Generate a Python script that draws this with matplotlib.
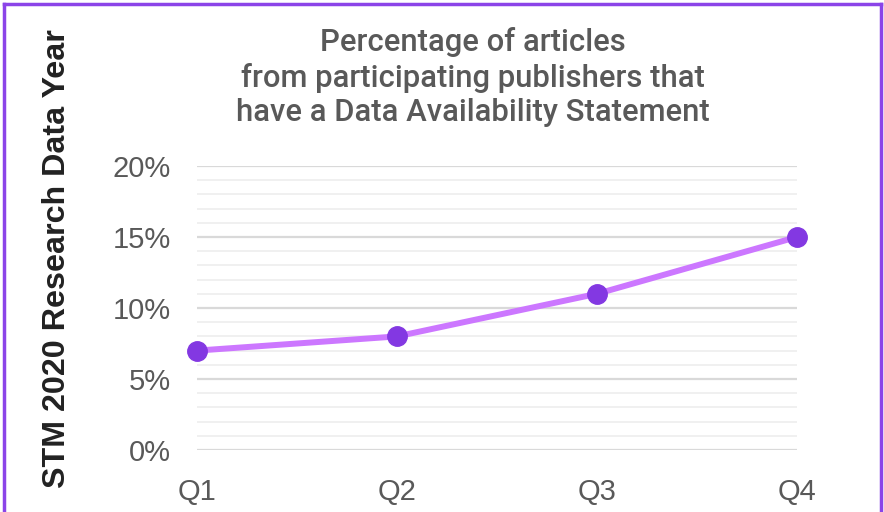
import matplotlib
matplotlib.use("Agg")
import matplotlib.pyplot as plt
from matplotlib.lines import Line2D
from matplotlib.ticker import MultipleLocator, PercentFormatter

# data
quarters = ["Q1", "Q2", "Q3", "Q4"]
share = [0.07, 0.08, 0.11, 0.15]

title = "Percentage of articles\nfrom participating publishers that\nhave a Data Availability Statement"
side_label = "STM 2020 Research Data Year"

fig = plt.figure(figsize=(8.84, 5.12), dpi=100)
ax = fig.add_axes([197 / 884, 1 - 450 / 512, 600 / 884, 284 / 512])

x = list(range(len(quarters)))
ax.plot(x, share, color="#CC77FF", linewidth=4.3, zorder=3, solid_capstyle="round")
ax.plot(x, share, linestyle="none", marker="o", markersize=14,
        color="#8338E2", zorder=4, clip_on=False)

ax.set_xlim(0, 3)
ax.set_ylim(0, 0.20)
ax.set_xticks(x)
ax.set_xticklabels(quarters)
ax.yaxis.set_major_locator(MultipleLocator(0.05))
ax.yaxis.set_minor_locator(MultipleLocator(0.01))
ax.yaxis.set_major_formatter(PercentFormatter(1.0, decimals=0))

ax.grid(axis="y", which="major", color="#D9D9D9", linewidth=1.6, zorder=1)
ax.grid(axis="y", which="minor", color="#F0F0F0", linewidth=1.4, zorder=1)
ax.set_axisbelow(True)
for s in ax.spines.values():
    s.set_visible(False)
ax.tick_params(axis="both", which="both", length=0, labelsize=21,
               labelcolor="#595959")
ax.tick_params(axis="x", pad=20)
ax.tick_params(axis="y", pad=19)
for lbl in ax.get_xticklabels() + ax.get_yticklabels():
    lbl.set_family("Liberation Sans")

fig.text(473 / 884, 1 - 77 / 512, title, ha="center", va="center",
         fontsize=22.3, color="#595959", family="Roboto", fontweight="medium",
         linespacing=1.24)
fig.text(57 / 884, 1 - 259 / 512, side_label, rotation=90, ha="center",
         va="center", fontsize=23.2, fontweight="bold", color="#222222",
         family="Liberation Sans")

# purple frame round the figure (bottom edge is cut off)
frame = "#8B44E8"
fig.add_artist(Line2D([3.5 / 884, 3.5 / 884], [0, 1 - 3.5 / 512], color=frame, linewidth=2.5))
fig.add_artist(Line2D([880.5 / 884, 880.5 / 884], [0, 1 - 3.5 / 512], color=frame, linewidth=2.5))
fig.add_artist(Line2D([3.5 / 884, 880.5 / 884], [1 - 3.5 / 512, 1 - 3.5 / 512], color=frame, linewidth=2.5))

fig.savefig("out.png", dpi=100)
